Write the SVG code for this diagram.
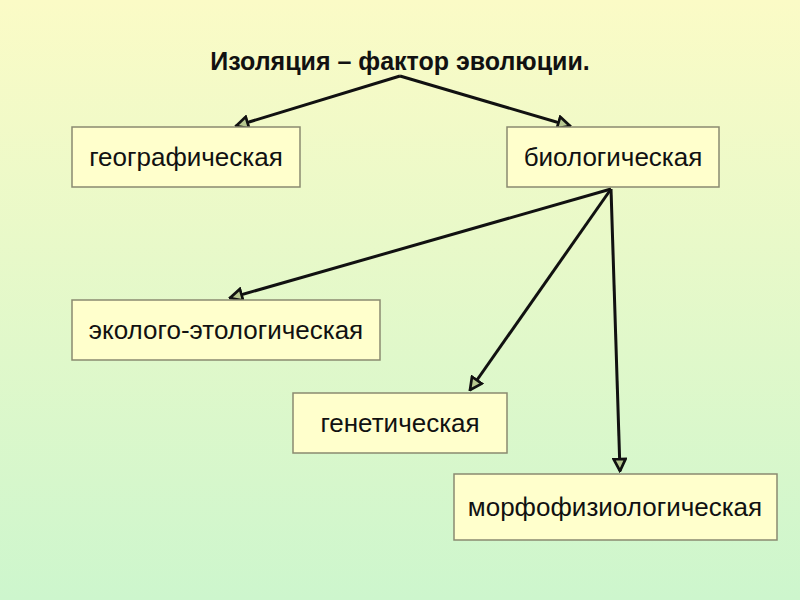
<svg xmlns="http://www.w3.org/2000/svg" width="800" height="600" viewBox="0 0 800 600">
<style>
.box{fill:#ffffcc;stroke:#8a8a70;stroke-width:1.5}
.t{font-family:"Liberation Sans",Arial,sans-serif;font-size:26px;fill:#111;text-anchor:middle}
.c{stroke:#111;stroke-width:3;fill:none;marker-end:url(#a)}
</style>
<defs>
<linearGradient id="bg" x1="0" y1="0" x2="0" y2="1">
<stop offset="0" stop-color="#fbfbc6"/>
<stop offset="1" stop-color="#cdf6cd"/>
</linearGradient>
<marker id="a" viewBox="0 0 10 10" refX="9" refY="5" markerWidth="5" markerHeight="5" orient="auto" markerUnits="strokeWidth">
<path d="M1,1 L9,5 L1,9 Z" fill="#b8c890" stroke="#111" stroke-width="1.8"/>
</marker>
</defs>
<rect width="800" height="600" fill="url(#bg)"/>
<text x="400" y="70" class="t" style="font-weight:bold;font-size:25px">Изоляция – фактор эволюции.</text>
<g id="connectors">
<line class="c" x1="400" y1="76" x2="236" y2="126"/>
<line class="c" x1="400" y1="76" x2="570" y2="126"/>
<line class="c" x1="611" y1="189" x2="230" y2="298"/>
<line class="c" x1="611" y1="189" x2="470" y2="390"/>
<line class="c" x1="611" y1="189" x2="620" y2="471"/>
</g>
<g id="geo"><rect class="box" x="72" y="127" width="228" height="60"/><text class="t" x="186" y="166">географическая</text></g>
<g id="bio"><rect class="box" x="507" y="127" width="212" height="60"/><text class="t" x="613" y="166">биологическая</text></g>
<g id="eco"><rect class="box" x="72" y="300" width="308" height="60"/><text class="t" x="226" y="339">эколого-этологическая</text></g>
<g id="gen"><rect class="box" x="293" y="393" width="214" height="60"/><text class="t" x="400" y="432">генетическая</text></g>
<g id="morph"><rect class="box" x="454" y="474" width="323" height="66"/><text class="t" x="615" y="516">морфофизиологическая</text></g>
</svg>
